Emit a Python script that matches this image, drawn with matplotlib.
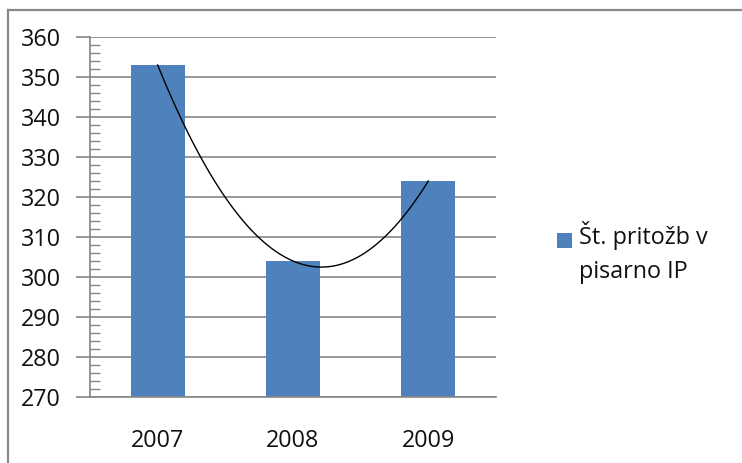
import numpy as np
import matplotlib
matplotlib.use("Agg")
import matplotlib.pyplot as plt
from matplotlib.ticker import MultipleLocator
from matplotlib.patches import Rectangle
from matplotlib.lines import Line2D

categories = ["2007", "2008", "2009"]
values = [353, 304, 324]
series_name = "Št. pritožb v\npisarno IP"
y_ticks = [270, 280, 290, 300, 310, 320, 330, 340, 350, 360]

plt.rcParams['font.family'] = ['Open Sans', 'DejaVu Sans']

W, H = 742, 463
fig = plt.figure(figsize=(W / 100, H / 100), dpi=100)
fig.patch.set_facecolor("white")

ax = fig.add_axes([90 / W, (H - 397) / H, 406 / W, 360 / H])
x = np.arange(len(categories))
bar_color = "#4F81BD"
grid_color = "#868686"
ax.bar(x, values, width=0.4, color=bar_color, zorder=2)

# polynomial (order 2) trendline
coef = np.polyfit(x, values, 2)
xs = np.linspace(x[0], x[-1], 200)
ax.plot(xs, np.polyval(coef, xs), color="black", lw=1.0, zorder=3)

ax.set_xlim(-0.5, len(categories) - 0.5)
ax.set_ylim(y_ticks[0], y_ticks[-1])
ax.set_yticks(y_ticks)
ax.yaxis.set_minor_locator(MultipleLocator(2))
ax.set_xticks(x)
ax.set_xticklabels(categories)

ax.grid(axis="y", color=grid_color, lw=1.2, zorder=1)
ax.set_axisbelow(True)
for s in ["top", "right"]:
    ax.spines[s].set_visible(False)
for s in ["left", "bottom"]:
    ax.spines[s].set_color(grid_color)
    ax.spines[s].set_linewidth(1.2)

ax.tick_params(axis="y", which="major", direction="out", length=10, width=1.2,
               color=grid_color, labelsize=16.8, pad=11, labelcolor="#111111")
ax.tick_params(axis="y", which="minor", direction="in", length=7, width=1,
               color=grid_color)
ax.tick_params(axis="x", which="major", length=0, labelsize=16.8, pad=23,
               labelcolor="#111111")

# outer chart frame (left and top edges visible)
fig.add_artist(Line2D([8 / W, 8 / W], [0, 1 - 10 / H], transform=fig.transFigure,
                      color="#888888", lw=1.6))
fig.add_artist(Line2D([8 / W, 1], [1 - 10 / H, 1 - 10 / H], transform=fig.transFigure,
                      color="#888888", lw=1.6))

# legend
fig.add_artist(Rectangle((557 / W, 1 - 248 / H), 15 / W, 15 / H,
                         transform=fig.transFigure, facecolor=bar_color,
                         edgecolor="none"))
fig.text(579 / W, 1 - 221 / H, series_name, fontsize=16.8, va="top", ha="left",
         color="#111111", linespacing=1.55)

fig.savefig("out.png", dpi=100)
